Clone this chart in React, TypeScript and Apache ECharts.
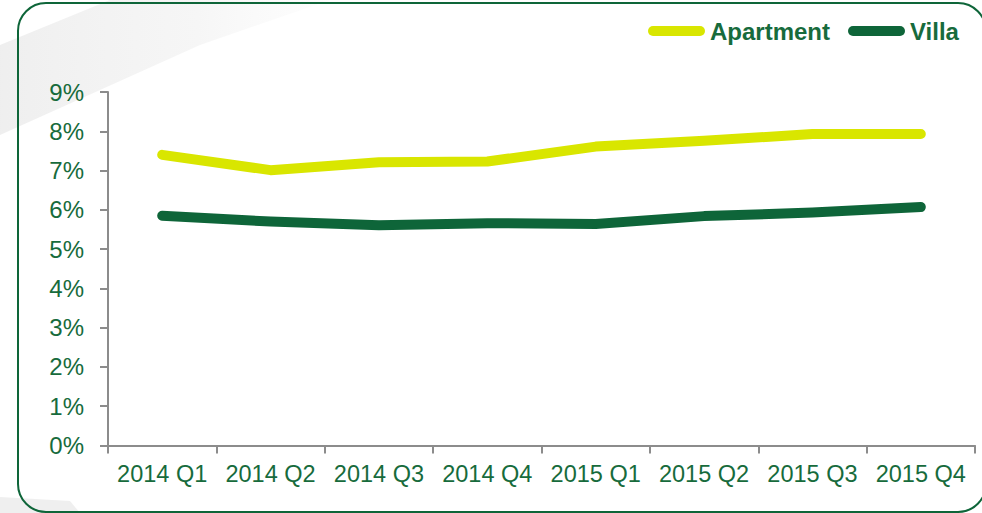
import React, { useEffect, useRef } from "react";
import * as echarts from "echarts";

const categories = ["2014 Q1", "2014 Q2", "2014 Q3", "2014 Q4", "2015 Q1", "2015 Q2", "2015 Q3", "2015 Q4"];
const apartment = [7.4, 7.01, 7.21, 7.23, 7.61, 7.76, 7.93, 7.93];
const villa = [5.85, 5.7, 5.61, 5.66, 5.64, 5.84, 5.93, 6.07];
const seriesNames = ["Apartment", "Villa"];

const TEXT = "#176b3c";
const APT = "#d9e600";
const VILLA = "#0e6539";
const FONT = "'Liberation Sans', Arial, sans-serif";
const PILL = "path://M5,0 H52 A5,5 0 0 1 52,10 H5 A5,5 0 0 1 5,0 Z";

export default function App() {
  const ref = useRef<HTMLDivElement>(null);
  useEffect(() => {
    if (!ref.current) return;
    const chart = echarts.init(ref.current, null, { renderer: "svg" });
    chart.setOption({
      animation: false,
      backgroundColor: "#ffffff",
      textStyle: { fontFamily: FONT },
      graphic: [
        {
          type: "polygon",
          z: -10,
          silent: true,
          shape: { points: [[0, 45], [110, 0], [330, 0], [200, 45], [0, 135]] },
          style: {
            fill: new echarts.graphic.LinearGradient(0, 0, 1, 0, [
              { offset: 0, color: "rgba(228,228,228,0.6)" },
              { offset: 0.6, color: "rgba(235,235,235,0.45)" },
              { offset: 1, color: "rgba(245,245,245,0.15)" },
            ]),
          },
        },
        {
          type: "polygon",
          z: -10,
          silent: true,
          shape: { points: [[0, 497], [70, 501], [80, 513], [0, 513]] },
          style: { fill: "rgba(228,228,228,0.6)" },
        },
        {
          type: "rect",
          z: -5,
          silent: true,
          shape: { x: 18, y: 3, width: 968, height: 509, r: 28 },
          style: { fill: "none", stroke: VILLA, lineWidth: 2 },
        },
      ],
      legend: {
        left: 648,
        top: 19,
        padding: 0,
        itemWidth: 57,
        itemHeight: 10,
        itemGap: 18,
        data: seriesNames.map((n) => ({ name: n, icon: PILL })),
        textStyle: { color: TEXT, fontSize: 24, fontWeight: "bold", fontFamily: FONT },
      },
      grid: { left: 108, right: 7, top: 92, bottom: 67.5, containLabel: false },
      xAxis: {
        type: "category",
        data: categories,
        boundaryGap: true,
        axisLine: { lineStyle: { color: "#8c8c8c", width: 2 } },
        axisTick: { show: true, interval: 0, length: 8, lineStyle: { color: "#8c8c8c", width: 2 } },
        axisLabel: { color: TEXT, fontSize: 23.5, margin: 16, interval: 0, hideOverlap: false, fontFamily: FONT },
      },
      yAxis: {
        type: "value",
        min: 0,
        max: 9,
        interval: 1,
        splitLine: { show: false },
        axisLine: { show: true, lineStyle: { color: "#8c8c8c", width: 2 } },
        axisTick: { show: true, length: 8, lineStyle: { color: "#8c8c8c", width: 2 } },
        axisLabel: { color: TEXT, fontSize: 24, margin: 24, formatter: "{value}%", fontFamily: FONT },
      },
      series: [
        {
          name: seriesNames[0],
          type: "line",
          data: apartment,
          showSymbol: false,
          symbol: "none",
          color: APT,
          lineStyle: { color: APT, width: 10, cap: "round", join: "round" },
        },
        {
          name: seriesNames[1],
          type: "line",
          data: villa,
          showSymbol: false,
          symbol: "none",
          color: VILLA,
          lineStyle: { color: VILLA, width: 10, cap: "round", join: "round" },
        },
      ],
    });
    return () => chart.dispose();
  }, []);
  return (
    <div
      ref={ref}
      style={{ position: "fixed", left: 0, top: 0, width: 982, height: 513 }}
    />
  );
}
